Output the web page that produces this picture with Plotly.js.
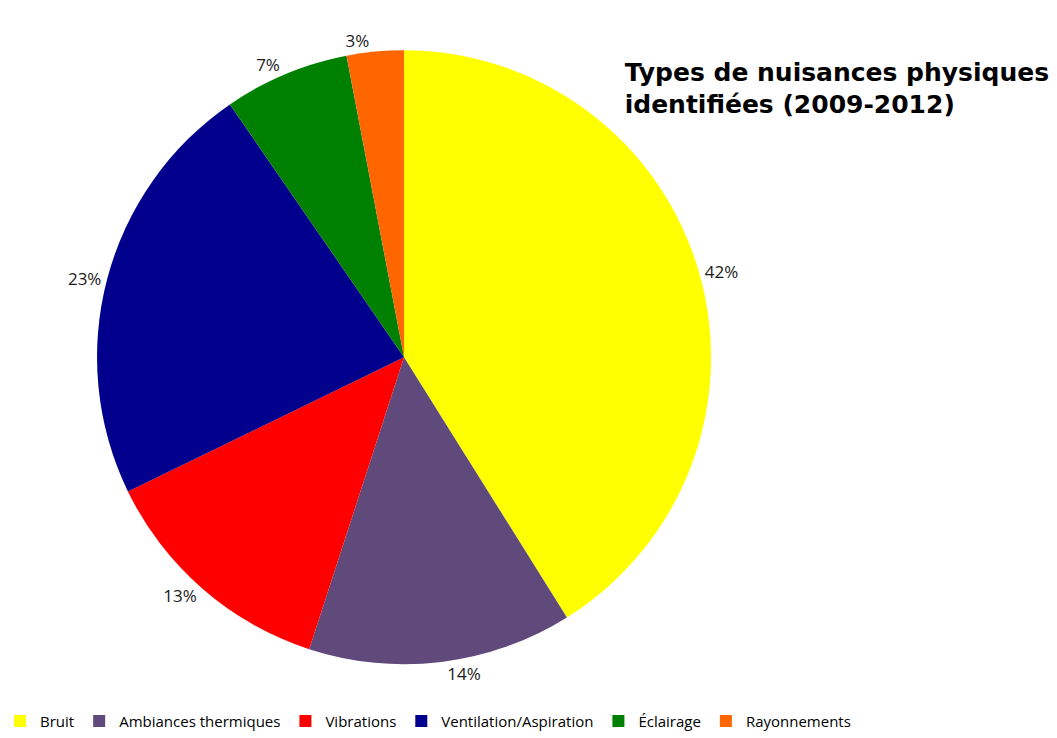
<!DOCTYPE html>
<html>
<head>
<meta charset="utf-8">
<script src="https://cdn.plot.ly/plotly-3.0.1.min.js"></script>
<style>html,body{margin:0;padding:0;background:#fff;}#chart{width:1057px;height:738px;}</style>
</head>
<body>
<div id="chart"></div>
<script>
var categories = ["Bruit", "Ambiances thermiques", "Vibrations", "Ventilation/Aspiration", "Éclairage", "Rayonnements"];
var shares = [41.1, 13.9, 12.8, 22.6, 6.6, 3.0];
var shareLabels = ["42%", "14%", "13%", "23%", "7%", "3%"];
var colors = ["#FFFF00", "#604A7B", "#FF0000", "#00008C", "#008000", "#FF6600"];

var trace = {
  type: "pie",
  labels: categories,
  values: shares,
  text: shareLabels,
  textinfo: "text",
  textposition: "outside",
  sort: false,
  direction: "clockwise",
  rotation: 0,
  marker: {colors: colors, line: {width: 0}},
  textfont: {family: "Open Sans, sans-serif", size: 17, color: "#1a1a1a"},
  outsidetextfont: {family: "Open Sans, sans-serif", size: 17, color: "#1a1a1a"},
  domain: {x: [0.0918, 0.6727], y: [0.092, 0.932]},
  automargin: false,
  hoverinfo: "label+text"
};

var layout = {
  width: 1057,
  height: 738,
  margin: {l: 0, r: 0, t: 0, b: 0},
  paper_bgcolor: "#fff",
  title: {
    text: "<b>Types de nuisances physiques<br>identifiées (2009-2012)</b>",
    x: 0.591, xanchor: "left", xref: "paper",
    y: 0.89, yanchor: "top", yref: "paper",
    font: {family: "DejaVu Sans, sans-serif", size: 25, color: "#000"}
  },
  showlegend: true,
  legend: {
    orientation: "h",
    x: 0.0, xanchor: "left",
    y: -0.008, yanchor: "bottom",
    font: {family: "Open Sans, sans-serif", size: 15, color: "#000"},
    traceorder: "normal",
    itemwidth: 30
  }
};

Plotly.newPlot("chart", [trace], layout, {displayModeBar: false});
</script>
</body>
</html>
